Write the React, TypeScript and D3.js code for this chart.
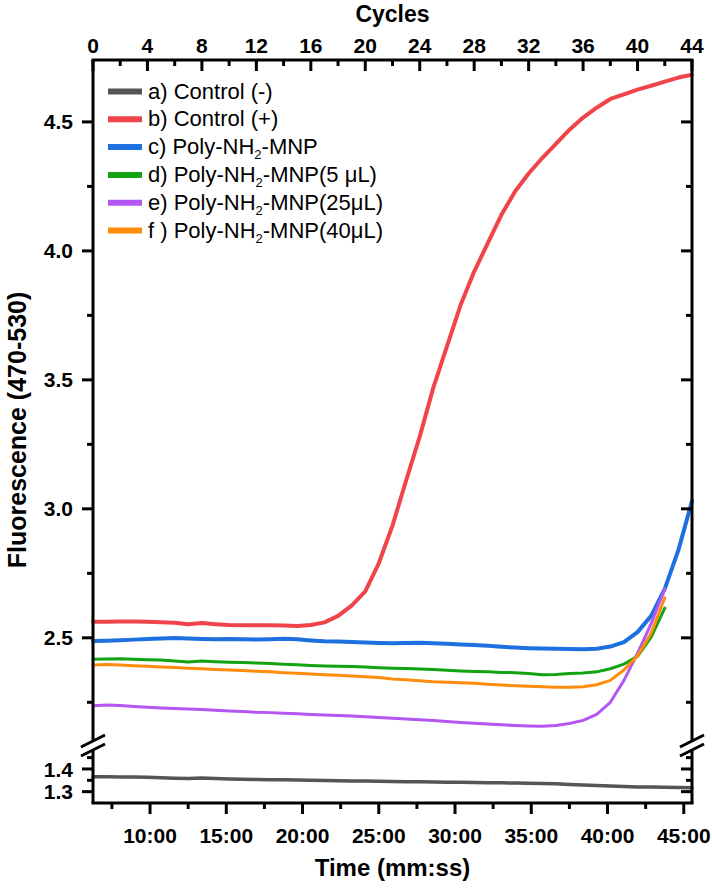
import React from "react";
import * as d3 from "d3";

// ---------- data ----------
const cycles = [0,1,2,3,4,5,6,7,8,9,10,11,12,13,14,15,16,17,18,19,20,21,22,23,24,25,26,27,28,29,30,31,32,33,34,35,36,37,38,39,40,41,42,43,44];

const controlNeg = [1.366,1.366,1.365,1.365,1.364,1.361,1.359,1.358,1.360,1.358,1.356,1.355,1.354,1.353,1.352,1.351,1.350,1.349,1.348,1.347,1.347,1.346,1.345,1.344,1.344,1.343,1.342,1.341,1.340,1.339,1.339,1.338,1.337,1.336,1.335,1.332,1.329,1.327,1.325,1.323,1.321,1.320,1.319,1.318,1.317];

const controlPos = [2.562,2.562,2.563,2.563,2.562,2.560,2.558,2.553,2.557,2.553,2.550,2.549,2.549,2.549,2.548,2.546,2.550,2.560,2.585,2.625,2.680,2.790,2.935,3.110,3.280,3.470,3.630,3.790,3.920,4.030,4.140,4.230,4.300,4.360,4.415,4.470,4.517,4.555,4.589,4.607,4.625,4.640,4.656,4.672,4.683];

const polyMNP = [2.488,2.489,2.491,2.493,2.495,2.497,2.499,2.497,2.495,2.494,2.495,2.494,2.493,2.494,2.496,2.494,2.490,2.487,2.486,2.484,2.482,2.480,2.479,2.480,2.481,2.479,2.477,2.474,2.472,2.469,2.465,2.462,2.460,2.459,2.458,2.457,2.456,2.458,2.466,2.483,2.522,2.585,2.690,2.840,3.030];

const poly5 = [2.417,2.418,2.419,2.417,2.415,2.414,2.410,2.406,2.410,2.407,2.405,2.404,2.402,2.400,2.398,2.396,2.393,2.391,2.390,2.389,2.387,2.384,2.382,2.381,2.379,2.377,2.374,2.371,2.369,2.368,2.366,2.365,2.362,2.357,2.358,2.362,2.364,2.368,2.380,2.398,2.428,2.503,2.615];

const poly25 = [2.237,2.240,2.238,2.234,2.231,2.228,2.226,2.224,2.222,2.219,2.216,2.214,2.211,2.210,2.208,2.206,2.203,2.201,2.199,2.197,2.194,2.191,2.188,2.185,2.182,2.179,2.176,2.172,2.169,2.166,2.163,2.160,2.158,2.157,2.160,2.168,2.180,2.203,2.250,2.335,2.440,2.555,2.690];

const poly40 = [2.395,2.397,2.395,2.392,2.390,2.387,2.385,2.382,2.380,2.377,2.375,2.373,2.370,2.368,2.365,2.363,2.360,2.357,2.355,2.352,2.349,2.346,2.340,2.337,2.334,2.330,2.328,2.326,2.324,2.320,2.317,2.314,2.312,2.310,2.308,2.308,2.310,2.318,2.335,2.375,2.430,2.518,2.655];

const cycleTicks = [0,4,8,12,16,20,24,28,32,36,40,44];
const cycleMinor = [2,6,10,14,18,22,26,30,34,38,42];
const timeTicks = [10,15,20,25,30,35,40,45];
const timeLabels = ["10:00","15:00","20:00","25:00","30:00","35:00","40:00","45:00"];
const timeMinor = [7.5,12.5,17.5,22.5,27.5,32.5,37.5,42.5];
const upperTicks = [2.5,3.0,3.5,4.0,4.5];
const upperTickLabels = ["2.5","3.0","3.5","4.0","4.5"];
const upperMinor = [2.25,2.75,3.25,3.75,4.25];
const lowerTicks = [1.3,1.4];
const lowerTickLabels = ["1.3","1.4"];
const lowerMinor = [1.35,1.45];

const legendLabels = [
  ["a) Control (-)"],
  ["b) Control (+)"],
  ["c) Poly-NH", "2", "-MNP"],
  ["d) Poly-NH", "2", "-MNP(5 μL)"],
  ["e) Poly-NH", "2", "-MNP(25μL)"],
  ["f ) Poly-NH", "2", "-MNP(40μL)"],
];

const colors = ["#555555", "#F0434A", "#1E6FE0", "#12A212", "#B456F2", "#FF8C0A"];

// ---------- layout ----------
const W = 712, H = 888;
const L = 93, R = 692, T = 60, B = 803;
const UB = 741; // bottom of upper segment
const LT = 750; // top of lower segment
const FONT = "'Liberation Sans', Arial, Helvetica, sans-serif";

const xC = d3.scaleLinear().domain([0, 44]).range([L, R]);
const xT = d3.scaleLinear().domain([6.26, 45.54]).range([L, R]);
const yU = d3.scaleLinear().domain([2.1, 4.74]).range([UB, T]);
const yL = d3.scaleLinear().domain([1.25, 1.4836]).range([B, LT]);

export default function App() {
  const lineU = d3.line<number>().x((_, i) => xC(cycles[i])).y((d) => yU(d));
  const lineL = d3.line<number>().x((_, i) => xC(cycles[i])).y((d) => yL(d));

  const series = [
    { d: controlNeg, lower: true, w: 3.5 },
    { d: controlPos, lower: false, w: 4 },
    { d: polyMNP, lower: false, w: 4 },
    { d: poly5, lower: false, w: 3 },
    { d: poly25, lower: false, w: 3 },
    { d: poly40, lower: false, w: 3 },
  ];

  const ax = { stroke: "#000", strokeWidth: 3, fill: "none" } as const;
  const MAJ = 11, MIN = 6;

  return (
    <svg width={W} height={H} style={{ position: "absolute", left: 0, top: 0, background: "#fff" }} fontFamily={FONT}>
      <rect x={0} y={0} width={W} height={H} fill="#fff" />
      {/* data */}
      {series.map((s, i) => (
        <path key={i} d={(s.lower ? lineL : lineU)(s.d) || ""} stroke={colors[i]} strokeWidth={s.w} fill="none" strokeLinejoin="round" strokeLinecap="round" />
      ))}

      {/* axes lines */}
      <line x1={L - 1.5} x2={R + 1.5} y1={T} y2={T} {...ax} />
      <line x1={L - 1.5} x2={R + 1.5} y1={B} y2={B} {...ax} />
      <line x1={L} x2={L} y1={T} y2={UB} {...ax} />
      <line x1={L} x2={L} y1={LT} y2={B} {...ax} />
      <line x1={R} x2={R} y1={T} y2={UB} {...ax} />
      <line x1={R} x2={R} y1={LT} y2={B} {...ax} />

      {/* break marks */}
      {[L, R].map((x) => (
        <g key={"br" + x}>
          <line x1={x - 12} y1={UB + 6} x2={x + 12} y2={UB - 6} {...ax} />
          <line x1={x - 12} y1={LT + 6} x2={x + 12} y2={LT - 6} {...ax} />
        </g>
      ))}

      {/* top axis: cycles */}
      {cycleTicks.map((c) => (
        <g key={"ct" + c}>
          <line x1={xC(c)} x2={xC(c)} y1={T} y2={T + MAJ} {...ax} />
          <text x={xC(c)} y={53} textAnchor="middle" fontSize={21} fontWeight="bold">{c}</text>
        </g>
      ))}
      {cycleMinor.map((c) => (
        <line key={"cm" + c} x1={xC(c)} x2={xC(c)} y1={T} y2={T + MIN} {...ax} />
      ))}
      <text x={(L + R) / 2} y={22} textAnchor="middle" fontSize={23} fontWeight="bold">Cycles</text>

      {/* bottom axis: time */}
      {timeTicks.map((t, i) => (
        <g key={"tt" + t}>
          <line x1={xT(t)} x2={xT(t)} y1={B} y2={B + MAJ} {...ax} />
          <text x={xT(t)} y={843} textAnchor="middle" fontSize={21} fontWeight="bold">{timeLabels[i]}</text>
        </g>
      ))}
      {timeMinor.map((t) => (
        <line key={"tm" + t} x1={xT(t)} x2={xT(t)} y1={B} y2={B + MIN} {...ax} />
      ))}
      <text x={(L + R) / 2} y={876} textAnchor="middle" fontSize={24} fontWeight="bold">Time (mm:ss)</text>

      {/* left / right axis ticks, upper segment */}
      {upperTicks.map((v, i) => (
        <g key={"ut" + v}>
          <line x1={L - MAJ} x2={L} y1={yU(v)} y2={yU(v)} {...ax} />
          <line x1={R - MAJ} x2={R} y1={yU(v)} y2={yU(v)} {...ax} />
          <text x={73} y={yU(v)} dy="0.36em" textAnchor="end" fontSize={21} fontWeight="bold">{upperTickLabels[i]}</text>
        </g>
      ))}
      {upperMinor.map((v) => (
        <g key={"um" + v}>
          <line x1={L - MIN} x2={L} y1={yU(v)} y2={yU(v)} {...ax} />
          <line x1={R - MIN} x2={R} y1={yU(v)} y2={yU(v)} {...ax} />
        </g>
      ))}
      {/* lower segment */}
      {lowerTicks.map((v, i) => (
        <g key={"lt" + v}>
          <line x1={L - MAJ} x2={L} y1={yL(v)} y2={yL(v)} {...ax} />
          <line x1={R - MAJ} x2={R} y1={yL(v)} y2={yL(v)} {...ax} />
          <text x={73} y={yL(v)} dy="0.36em" textAnchor="end" fontSize={21} fontWeight="bold">{lowerTickLabels[i]}</text>
        </g>
      ))}
      {lowerMinor.map((v) => (
        <g key={"lm" + v}>
          <line x1={L - MIN} x2={L} y1={yL(v)} y2={yL(v)} {...ax} />
          <line x1={R - MIN} x2={R} y1={yL(v)} y2={yL(v)} {...ax} />
        </g>
      ))}

      {/* y title */}
      <text transform={`translate(26,${430}) rotate(-90)`} textAnchor="middle" fontSize={25} fontWeight="bold">Fluorescence (470-530)</text>

      {/* legend */}
      {legendLabels.map((parts, i) => {
        const yb = 98.5 + i * 27.8;
        return (
          <g key={"lg" + i}>
            <line x1={108} x2={142} y1={yb - 7} y2={yb - 7} stroke={colors[i]} strokeWidth={6} />
            <text x={148} y={yb} fontSize={22}>
              {parts.length === 1 ? parts[0] : (
                <>
                  <tspan>{parts[0]}</tspan>
                  <tspan fontSize={13} dy={5}>{parts[1]}</tspan>
                  <tspan dy={-5}>{parts[2]}</tspan>
                </>
              )}
            </text>
          </g>
        );
      })}
    </svg>
  );
}
